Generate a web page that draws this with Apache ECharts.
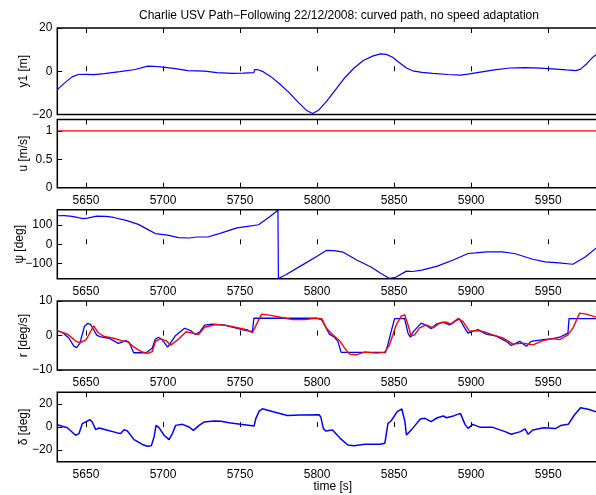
<!DOCTYPE html>
<html>
<head>
<meta charset="utf-8">
<script src="https://cdn.jsdelivr.net/npm/echarts@6/dist/echarts.min.js"></script>
<style>html,body{margin:0;padding:0;background:#fff}#chart{width:596px;height:495px}</style>
</head>
<body>
<div id="chart"></div>
<script>
const timeTicks = [5650, 5700, 5750, 5800, 5850, 5900, 5950]
const timeRange = [5631.4, 5989]

// cross-track error y1 [m]
const y1Data = [[5631.4,-8.5],[5636,-5.5],[5641,-2.6],[5645,-1.5],[5650,-1.4],[5655,-1.6],[5662,-1.1],[5672,-0.2],[5682,0.8],[5690,2.4],[5694,2.3],[5700,1.9],[5708,1.2],[5716,0.3],[5727,0.1],[5735,-0.6],[5745,-1.0],[5752,-0.9],[5759,-0.6],[5759.5,0.8],[5762,0.6],[5765,-0.2],[5770,-2.5],[5776,-6],[5782,-10],[5788,-14.5],[5793,-18],[5797,-19.5],[5801,-18],[5806,-14],[5812,-8.5],[5818,-3],[5824,1.5],[5830,5],[5836,7],[5841,8],[5845,7.8],[5849,6.5],[5853,4.2],[5858,1.5],[5862,0.2],[5868,-0.5],[5875,-1],[5885,-1.5],[5893,-1.8],[5898,-1.3],[5905,-0.5],[5915,0.6],[5925,1.5],[5935,1.7],[5945,1.4],[5955,1.0],[5962,0.6],[5968,0.3],[5971,1.0],[5975,3.5],[5979,6.5],[5982,8.2]]
const y1Ticks = [-20, 0, 20]

// surge speed u [m/s]
const uData = [[5631.4,1],[5989,1]]
const uTicks = [0, 0.5, 1]

// heading psi [deg]
const psiData = [[5631.4,149],[5636,150],[5641,146],[5645,139],[5648,134],[5651,137],[5657,147],[5663,146],[5668,140],[5676,125],[5684,104],[5690,78],[5695,56],[5703,48],[5710,35],[5717,33],[5722,38],[5729,38],[5737,57],[5748,86],[5755,94],[5762,102],[5769,142],[5774.6,178],[5774.9,-178],[5780,-158],[5790,-110],[5800,-62],[5806,-32],[5811,-33],[5817,-41],[5826,-83],[5835,-118],[5841,-150],[5847,-178],[5851,-172],[5858,-140],[5862,-142],[5868,-135],[5878,-114],[5888,-83],[5898,-48],[5903,-45],[5910,-40],[5920,-40],[5928,-48],[5940,-78],[5948,-92],[5957,-97],[5966,-104],[5974,-66],[5982,-14]]
const psiTicks = [-100, 0, 100]

// yaw rate r [deg/s]: reference (blue) and measured (red)
const rRefData = [[5631.4,1.4],[5635,0.8],[5639,-0.8],[5642,-3],[5644,-3.5],[5646,-2.3],[5649,2.6],[5651,3.5],[5653,3.2],[5657,0.1],[5659,-0.3],[5665,-0.8],[5671,-2.3],[5676,-1.5],[5678,-2],[5681,-5],[5689,-5],[5690,-4.8],[5693,-3.7],[5695,-1.1],[5697,-0.5],[5699,-1],[5703,-3.4],[5704,-3.7],[5708,-0.1],[5714,2.1],[5718,1.4],[5721,0.3],[5724,1.1],[5727,3],[5732,3.3],[5740,3],[5745,2.4],[5752,1.6],[5758,1.1],[5759,5],[5800,5],[5803,4.5],[5805.9,2.2],[5808,0.4],[5811.3,-0.5],[5813.5,-1.7],[5815.6,-4.9],[5844.4,-4.9],[5845.9,-2.7],[5848.1,1.2],[5850.3,4.9],[5856.8,4.9],[5859,0.7],[5860.5,-0.5],[5862.6,1.2],[5867.6,3.6],[5870.8,2.9],[5874.1,2],[5877.3,3.3],[5881.7,3.9],[5886,3.1],[5889.2,4.1],[5892.5,4.8],[5894.6,3.1],[5897.9,0.7],[5901.1,1.2],[5904.4,1.7],[5909.8,0.4],[5916.3,-0.2],[5922.8,-1.7],[5926,-2.9],[5931.5,-1.7],[5935.8,-3.1],[5939,-1.7],[5946.6,-1.2],[5953.1,-0.9],[5957.4,-0.5],[5962.8,0.7],[5963.5,4.9],[5989,4.9]]
const rMeasData = [[5631.4,1.4],[5638,0.4],[5644,-1.8],[5646,-2.1],[5650,-1.3],[5655,2.8],[5658,0.8],[5662,-0.3],[5668,-0.8],[5673,-1.5],[5677,-1.8],[5681,-3.3],[5686,-4.7],[5690,-5.2],[5693,-4.7],[5695,-1.8],[5698,-1],[5702,-1.5],[5705,-2.8],[5710,-1.1],[5715,1.1],[5720,0.6],[5723,0.3],[5727,2.4],[5734,3.2],[5740,3],[5747,2.4],[5755,1.6],[5758,0.8],[5761,3.5],[5764,6.2],[5769,5.9],[5777,5.2],[5784,4.6],[5792,4.6],[5799,5],[5803,4.9],[5805.9,2.2],[5810.2,0.2],[5814.6,-1.5],[5817.8,-3.6],[5821,-5.4],[5825.4,-5.6],[5830.8,-4.8],[5838.4,-5.1],[5843.8,-4.9],[5847,-2.7],[5851.4,3.1],[5854.6,5.6],[5856.8,6],[5859,3.1],[5861.1,-0.2],[5863.3,0.2],[5866.5,2.2],[5870.8,3.1],[5875.2,2.2],[5879.5,3.6],[5883.8,3.9],[5887.1,3.3],[5891.4,4.9],[5894.6,4.1],[5899,1.2],[5903.3,1.4],[5907.6,1.2],[5914.1,0.2],[5920.6,-0.7],[5927.1,-2.5],[5933.6,-2.2],[5940.1,-2.7],[5946.6,-1.5],[5953.1,-0.9],[5957.4,-1.2],[5962.8,0.2],[5966.1,2.2],[5970.4,6.5],[5974.7,6.2],[5981.2,5.3],[5983,5.1]]
const rTicks = [-10, 0, 10]

// rudder angle delta [deg]
const deltaData = [[5631.4,2],[5637.9,-0.6],[5643.3,-7.1],[5645.5,-5.7],[5647.6,2.9],[5652.6,6.3],[5654.1,4.3],[5656.3,-2.3],[5658.5,-0.9],[5662.8,-2.3],[5670.4,-5.1],[5672.5,-5.7],[5674.7,-2.3],[5676.9,-3.4],[5681.2,-10.9],[5686.6,-15.1],[5689.8,-16.6],[5692.4,-16.3],[5694.2,-8.6],[5695.5,1.4],[5697.4,-0.6],[5700.7,-7.1],[5703.9,-10.9],[5706.1,-5.7],[5708.2,1.4],[5712.6,2.3],[5716.9,0],[5719.7,-2.9],[5723.4,1.4],[5726.6,4.3],[5733.1,5.1],[5737.5,4.9],[5743.9,3.4],[5750.4,2.3],[5759.1,0.9],[5760.2,7.1],[5762.4,13.7],[5764.5,15.7],[5772.1,12.9],[5780.7,10],[5789.4,10.3],[5801.3,10.6],[5802.4,8.6],[5804.1,-1.4],[5805.6,-3.4],[5810,-2.5],[5815,-9.8],[5820,-15.6],[5824,-16.2],[5831,-15],[5841,-15],[5844,-14],[5846,3.2],[5848,5.2],[5852,13.3],[5855,15.6],[5857,4.6],[5858,-7],[5862,-1.2],[5867,6.9],[5870,7.5],[5874,4.6],[5878,8],[5882,9.5],[5884,8],[5889,9.8],[5893,11.8],[5896,2.3],[5898,-1.2],[5901,2.3],[5906,-0.3],[5914,-0.3],[5922,-4],[5926,-6.3],[5932,-4],[5935,-1.7],[5937,-6.3],[5940,-2.6],[5947,-0.6],[5955,-1.2],[5958,1.2],[5963,2.3],[5967,10.4],[5971,16.7],[5976,15.3],[5982,12.7]]
const deltaTicks = [-20, 0, 20]

const font = 'Liberation Sans, Arial, sans-serif'
const fmt = (v) => String(v).replace('-', '\u2212')
const panels = [
  { top: 28, height: 86.5, name: 'y1 [m]', range: [-20, 20], ticks: y1Ticks, labels: false, gap: 28 },
  { top: 119.5, height: 68.2, name: 'u [m/s]', range: [0, 1.2], ticks: uTicks, labels: true, gap: 28 },
  { top: 209.8, height: 69, name: 'ψ [deg]', range: [-180, 180], ticks: psiTicks, labels: true, gap: 32 },
  { top: 301, height: 69, name: 'r [deg/s]', range: [-10, 10], ticks: rTicks, labels: true, gap: 28 },
  { top: 392.3, height: 69.4, name: 'δ [deg]', range: [-30, 30], ticks: deltaTicks, labels: true, gap: 28 },
]

const grid = panels.map((p) => ({ left: 57.3, width: 551, top: p.top, height: p.height, outerBoundsMode: 'none', containLabel: false,
  show: true, borderColor: '#000', borderWidth: 1.5, backgroundColor: '#fff' }))
const xAxis = []
panels.forEach((p, i) => {
  const base = { type: 'value', gridIndex: i, min: timeRange[0], max: timeRange[1], splitLine: { show: false }, axisLine: { show: false },
    axisTick: { inside: true, length: 5, customValues: timeTicks, lineStyle: { color: '#000', width: 1 } } }
  xAxis.push({ ...base, position: 'bottom',
    axisLabel: { show: p.labels, customValues: timeTicks, formatter: fmt, color: '#000', fontSize: 12, fontFamily: font, margin: 7 },
    ...(i === panels.length - 1 ? { name: 'time [s]', nameLocation: 'middle', nameGap: 19, nameMoveOverlap: false,
      nameTextStyle: { color: '#000', fontSize: 12, fontFamily: font } } : {}) })
  xAxis.push({ ...base, position: 'top', axisLabel: { show: false } })
})
const yAxis = panels.map((p, i) => ({
  type: 'value', gridIndex: i, min: p.range[0], max: p.range[1], splitLine: { show: false }, axisLine: { show: false },
  axisTick: { inside: true, length: 5, customValues: p.ticks, lineStyle: { color: '#000', width: 1 } },
  axisLabel: { customValues: p.ticks, formatter: fmt, color: '#000', fontSize: 12, fontFamily: font, margin: 5 },
  name: p.name, nameLocation: 'middle', nameRotate: 90, nameGap: p.gap, nameMoveOverlap: false,
  nameTextStyle: { color: '#000', fontSize: 12, fontFamily: font },
}))

const line = (data, axis, color, width = 1.2) => ({ type: 'line', data, xAxisIndex: axis * 2, yAxisIndex: axis, symbol: 'none', lineStyle: { color, width }, clip: true })

const chart = echarts.init(document.getElementById('chart'))
chart.setOption({
  backgroundColor: '#fff',
  animation: false,
  title: { text: 'Charlie USV Path−Following 22/12/2008: curved path, no speed adaptation', left: 334, top: 5, textAlign: 'center',
    textStyle: { color: '#000', fontSize: 12, fontWeight: 'normal', fontFamily: font } },
  grid, xAxis, yAxis,
  series: [
    line(y1Data, 0, '#0000ff'),
    line(uData, 1, '#ff0000'),
    line(psiData, 2, '#0000ff'),
    line(rRefData, 3, '#0000ff', 1.3),
    line(rMeasData, 3, '#ff0000', 1.4),
    line(deltaData, 4, '#0000ff', 1.5),
  ],
})
</script>
</body>
</html>
